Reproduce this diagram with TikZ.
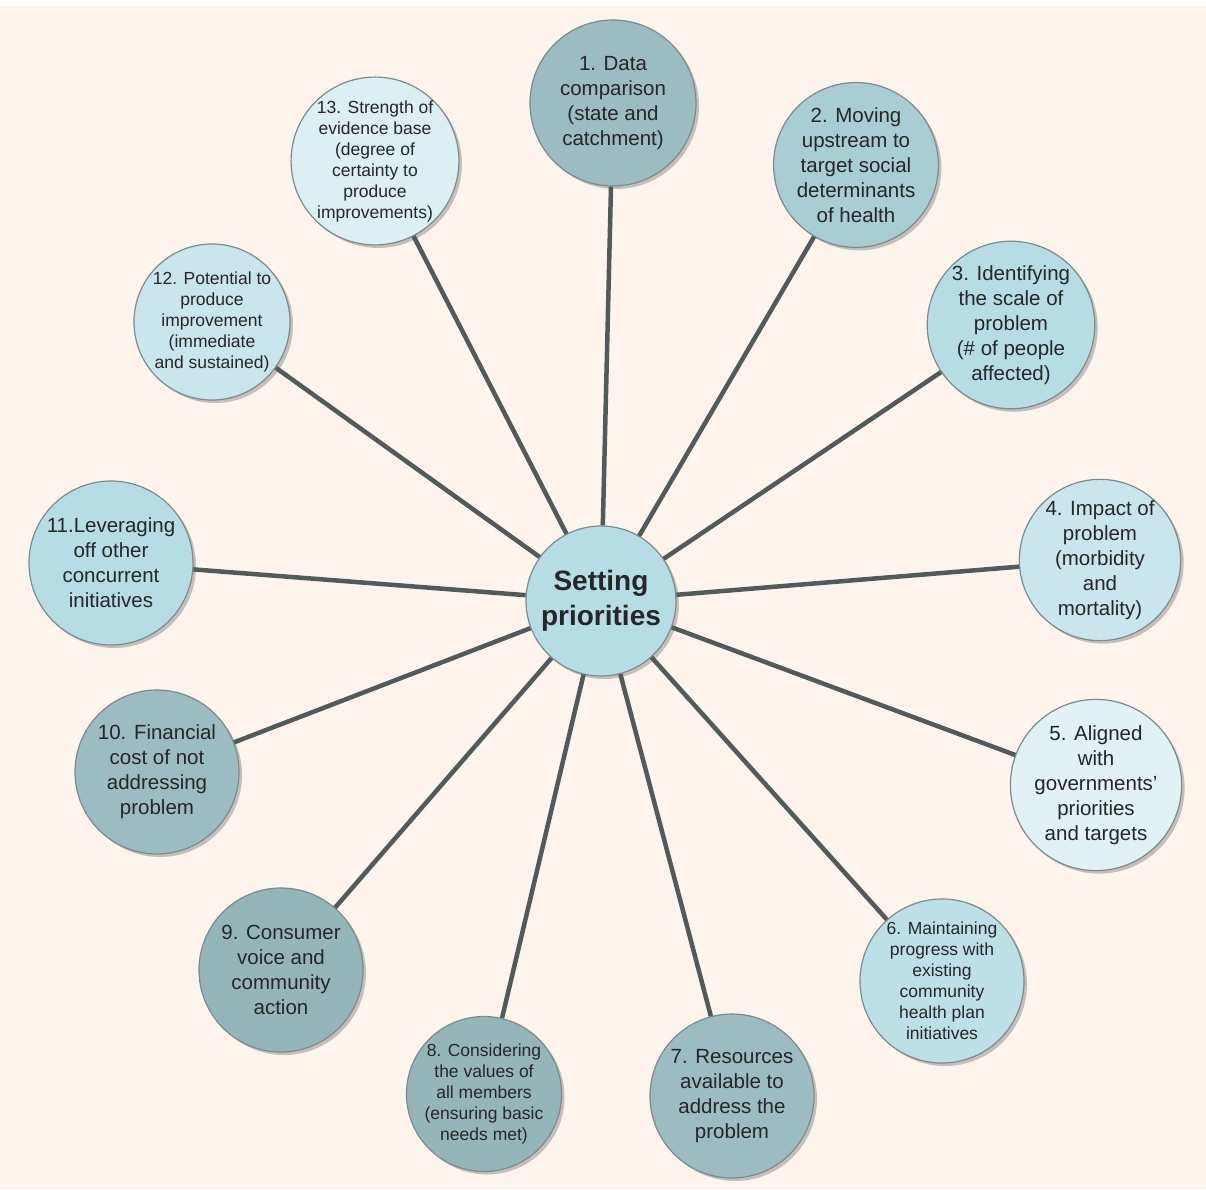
\documentclass[tikz,border=0pt]{standalone}
\usepackage{fontspec}
\setmainfont{Liberation Sans}
\usetikzlibrary{shadows}

\definecolor{paper}{HTML}{FDF4EE}
\definecolor{spokegray}{HTML}{525B5B}
\definecolor{rimgray}{HTML}{7E8A8C}
\definecolor{tealA}{HTML}{9BBCC0}
\definecolor{tealB}{HTML}{A8CDD3}
\definecolor{tealC}{HTML}{B5DDE3}
\definecolor{tealD}{HTML}{C8E6EB}
\definecolor{tealE}{HTML}{E2F1F4}
\definecolor{tealF}{HTML}{BDE0E6}
\definecolor{tealG}{HTML}{94B6B9}
\definecolor{tealH}{HTML}{DCEFF2}

\tikzset{
  bubble/.style = {circle, draw = rimgray, line width = 1.2pt, align = center,
    inner sep = 0pt, text = black!85,
    drop shadow = {shadow xshift = 3pt, shadow yshift = -3pt, opacity = .45, fill = gray}},
  bigtxt/.style = {font = \fontsize{20.5}{25}\selectfont},
  smalltxt/.style = {font = \fontsize{17.5}{21}\selectfont},
  spoke/.style = {draw = spokegray, line width = 4.5pt}
}

\begin{document}
\begin{tikzpicture}[x = 1pt, y = -1pt]

	% Paper
	
	\fill [white] (0, 0) rectangle (1206, 1189);
	\fill [paper] (0, 6) rectangle (1206, 1189);
	\useasboundingbox (0, 0) rectangle (1206, 1189);
	
	% Hub
	
	\node [bubble, fill = tealC, minimum size = 150, font = \bfseries\fontsize{28}{35}\selectfont] (hub) at (601, 601) {Setting\\priorities};
	
	% Criteria
	
	\node [bubble, bigtxt, fill = tealA, minimum size = 166] (n1) at (613, 103) {1. Data\\comparison\\(state and\\catchment)};
	\node [bubble, bigtxt, fill = tealB, minimum size = 158] (n2) at (856, 165) {2. Moving\\upstream to\\target social\\determinants\\of health};
	\node [bubble, bigtxt, fill = tealC, minimum size = 150] (n3) at (1011, 325) {3. Identifying\\the scale of\\problem\\(\# of people\\affected)};
	\node [bubble, bigtxt, fill = tealD, minimum size = 152] (n4) at (1100, 560) {4. Impact of\\problem\\(morbidity\\and\\mortality)};
	\node [bubble, bigtxt, fill = tealE, minimum size = 158] (n5) at (1096, 785) {5. Aligned\\with\\governments'\\priorities\\and targets};
	\node [bubble, smalltxt, fill = tealF, minimum size = 164] (n6) at (942, 981) {6. Maintaining\\progress with\\existing\\community\\health plan\\initiatives};
	\node [bubble, bigtxt, fill = tealA, minimum size = 164] (n7) at (732, 1096) {7. Resources\\available to\\address the\\problem};
	\node [bubble, smalltxt, fill = tealG, minimum size = 152] (n8) at (484, 1094) {8. Considering\\the values of\\all members\\(ensuring basic\\needs met)};
	\node [bubble, bigtxt, fill = tealG, minimum size = 164] (n9) at (281, 970) {9. Consumer\\voice and\\community\\action};
	\node [bubble, bigtxt, fill = tealA, minimum size = 164] (n10) at (157, 772) {10. Financial\\cost of not\\addressing\\problem};
	\node [bubble, bigtxt, fill = tealC, minimum size = 164] (n11) at (111, 563) {11.Leveraging\\off other\\concurrent\\initiatives};
	\node [bubble, smalltxt, fill = tealD, minimum size = 156] (n12) at (212, 322) {12. Potential to\\produce\\improvement\\(immediate\\and sustained)};
	\node [bubble, smalltxt, fill = tealH, minimum size = 164] (n13) at (375, 161) {13. Strength of\\evidence base\\(degree of\\certainty to\\produce\\improvements)};
	
	% Spokes
	
	\foreach \i in {1, ..., 13}
		\draw [spoke] (hub) -- (n\i);

\end{tikzpicture}
\end{document}
